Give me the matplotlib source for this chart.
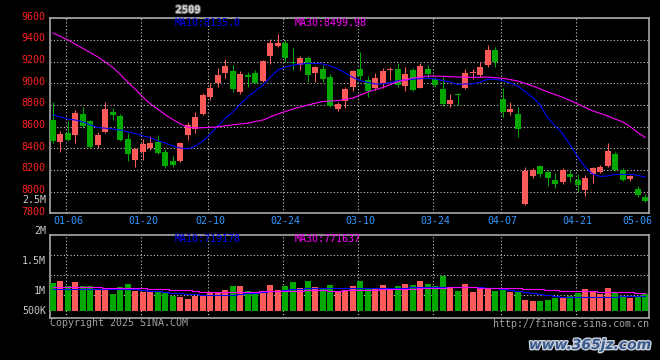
import matplotlib
matplotlib.use('Agg')
import matplotlib.pyplot as plt
import matplotlib.patheffects as pe
from matplotlib.transforms import ScaledTranslation
import numpy as np

plt.rcParams['font.family'] = 'DejaVu Sans Mono'

# trading days shown (2025)
dates = ['01-02', '01-03', '01-06', '01-07', '01-08', '01-09', '01-10', '01-13', '01-14', '01-15',
         '01-16', '01-17', '01-20', '01-21', '01-22', '01-23', '01-24', '01-27', '02-05', '02-06',
         '02-07', '02-10', '02-11', '02-12', '02-13', '02-14', '02-17', '02-18', '02-19', '02-20',
         '02-21', '02-24', '02-25', '02-26', '02-27', '02-28', '03-03', '03-04', '03-05', '03-06',
         '03-07', '03-10', '03-11', '03-12', '03-13', '03-14', '03-17', '03-18', '03-19', '03-20',
         '03-21', '03-24', '03-25', '03-26', '03-27', '03-28', '03-31', '04-01', '04-02', '04-03',
         '04-07', '04-08', '04-09', '04-10', '04-11', '04-14', '04-15', '04-16', '04-17', '04-18',
         '04-21', '04-22', '04-23', '04-24', '04-25', '04-28', '04-29', '04-30', '05-06', '05-07']

opens = [8661, 8458, 8544, 8523, 8717, 8652, 8431, 8553, 8738, 8698,
         8486, 8292, 8366, 8406, 8456, 8369, 8283, 8283, 8523, 8578,
         8717, 8876, 9000, 9092, 9114, 8923, 9077, 9098, 9021, 9255,
         9347, 9375, 9199, 9169, 9236, 9092, 9129, 9061, 8763, 8839,
         8966, 9132, 9030, 8959, 9000, 9120, 9129, 8975, 9123, 8959,
         9132, 9040, 8947, 8809, 8899, 8961, 9098, 9077, 9169, 9307,
         8855, 8738, 8717, 7886, 8144, 8237, 8184, 8107, 8092, 8163,
         8107, 8015, 8163, 8184, 8237, 8347, 8200, 8114, 8022, 7948]
highs = [8825, 8560, 8652, 8756, 8779, 8660, 8553, 8830, 8775, 8717,
         8538, 8406, 8486, 8514, 8523, 8394, 8329, 8455, 8646, 8738,
         8908, 9000, 9139, 9224, 9169, 9114, 9107, 9123, 9215, 9406,
         9458, 9400, 9323, 9252, 9252, 9160, 9169, 9083, 8830, 8969,
         9123, 9292, 9067, 9092, 9139, 9153, 9190, 9153, 9139, 9190,
         9169, 9061, 9061, 8901, 8913, 9129, 9129, 9199, 9354, 9338,
         8959, 8830, 8784, 8230, 8221, 8246, 8200, 8169, 8215, 8200,
         8163, 8154, 8230, 8246, 8452, 8369, 8215, 8154, 8052, 7975]
lows = [8452, 8369, 8467, 8452, 8587, 8405, 8400, 8545, 8661, 8470,
        8283, 8230, 8292, 8385, 8345, 8221, 8230, 8275, 8477, 8538,
        8707, 8846, 8969, 9046, 8923, 8899, 8969, 9000, 9012, 9175,
        9338, 9199, 9123, 9123, 9015, 9015, 9012, 8778, 8744, 8769,
        8932, 9030, 8876, 8938, 8954, 9030, 8969, 8932, 8932, 8954,
        9046, 8969, 8791, 8778, 8800, 8944, 9037, 9061, 9148, 9153,
        8692, 8707, 8507, 7880, 8123, 8138, 8052, 8031, 8071, 8092,
        8000, 7960, 8077, 8175, 8230, 8190, 8100, 8100, 7950, 7900]
closes = [8470, 8532, 8477, 8726, 8609, 8415, 8523, 8763, 8707, 8477,
          8345, 8394, 8437, 8452, 8354, 8237, 8246, 8449, 8615, 8692,
          8892, 8959, 9077, 9163, 8947, 9086, 9061, 9006, 9206, 9375,
          9375, 9236, 9185, 9236, 9077, 9153, 9037, 8791, 8809, 8944,
          9114, 9067, 8932, 9046, 9114, 9130, 8984, 9086, 8938, 9160,
          9086, 8984, 8809, 8846, 8890, 9098, 9107, 9153, 9307, 9199,
          8738, 8763, 8578, 8193, 8200, 8163, 8129, 8071, 8200, 8138,
          8061, 8123, 8215, 8230, 8378, 8200, 8107, 8144, 7969, 7914]

ma10 = [8707, 8689, 8670, 8661, 8643, 8615, 8592, 8585, 8578, 8569,
        8551, 8537, 8514, 8498, 8467, 8449, 8421, 8403, 8394, 8421,
        8467, 8532, 8606, 8680, 8735, 8809, 8876, 8929, 8984, 9058,
        9123, 9150, 9168, 9178, 9183, 9185, 9178, 9160, 9132, 9095,
        9054, 9026, 9007, 8994, 8994, 9007, 9024, 9031, 9037, 9043,
        9046, 9040, 9026, 9012, 8989, 8994, 8994, 9012, 9037, 9037,
        9026, 9003, 8975, 8923, 8869, 8800, 8680, 8606, 8532, 8430,
        8320, 8227, 8162, 8140, 8145, 8159, 8159, 8159, 8150, 8135]
ma30 = [9464, 9432, 9400, 9360, 9321, 9282, 9243, 9195, 9146, 9080,
        9007, 8945, 8870, 8810, 8760, 8708, 8665, 8625, 8595, 8588,
        8590, 8594, 8598, 8608, 8617, 8625, 8632, 8648, 8661, 8690,
        8717, 8740, 8763, 8782, 8800, 8816, 8832, 8837, 8841, 8852,
        8864, 8892, 8920, 8941, 8961, 8988, 9015, 9032, 9049, 9058,
        9067, 9066, 9065, 9061, 9058, 9056, 9055, 9056, 9058, 9052,
        9046, 9034, 9021, 8998, 8975, 8948, 8920, 8895, 8871, 8840,
        8809, 8777, 8745, 8722, 8698, 8670, 8643, 8600, 8545, 8500]

# volume in millions
volume = [1.38, 1.48, 1.23, 1.43, 1.23, 1.23, 1.12, 1.12, 0.83, 1.18,
          1.33, 1.00, 0.95, 0.95, 1.00, 0.95, 0.75, 0.70, 0.60, 0.75,
          0.75, 0.90, 0.90, 1.03, 1.23, 1.23, 1.00, 0.95, 0.95, 1.28,
          1.03, 1.23, 1.43, 1.13, 1.48, 1.18, 1.13, 1.28, 1.00, 1.03,
          1.23, 1.48, 1.08, 1.13, 1.28, 1.08, 1.23, 1.33, 1.28, 1.48,
          1.33, 1.23, 1.73, 1.13, 1.00, 1.33, 0.95, 1.08, 1.13, 1.00,
          1.08, 0.95, 0.95, 0.53, 0.48, 0.48, 0.53, 0.67, 0.70, 0.75,
          0.90, 1.08, 0.95, 0.83, 1.13, 0.90, 0.70, 0.65, 0.70, 0.83]
vol_ma10 = [1.115, 1.115, 1.115, 1.115, 1.115, 1.115, 1.115, 1.11, 1.11, 1.105,
            1.10, 1.10, 1.06, 1.015, 0.98, 0.95, 0.92, 0.885, 0.86, 0.84,
            0.815, 0.80, 0.785, 0.80, 0.815, 0.85, 0.885, 0.92, 0.95, 0.98,
            1.015, 1.05, 1.08, 1.115, 1.13, 1.145, 1.155, 1.165, 1.16, 1.15,
            1.145, 1.14, 1.14, 1.14, 1.14, 1.14, 1.14, 1.16, 1.18, 1.20,
            1.215, 1.215, 1.215, 1.215, 1.215, 1.215, 1.20, 1.18, 1.16, 1.14,
            1.10, 1.05, 1.00, 0.96, 0.915, 0.86, 0.81, 0.76, 0.715, 0.70,
            0.69, 0.685, 0.685, 0.69, 0.70, 0.715, 0.73, 0.75, 0.76, 0.765]
vol_ma30 = [1.215, 1.21, 1.20, 1.195, 1.19, 1.185, 1.18, 1.175, 1.17, 1.165,
            1.155, 1.14, 1.13, 1.115, 1.10, 1.09, 1.075, 1.06, 1.05, 1.01,
            0.975, 0.965, 0.965, 0.965, 0.965, 0.965, 0.965, 0.97, 0.98, 0.99,
            0.995, 1.00, 1.01, 1.02, 1.03, 1.03, 1.03, 1.02, 1.02, 1.03,
            1.04, 1.05, 1.06, 1.07, 1.08, 1.09, 1.10, 1.11, 1.125, 1.14,
            1.15, 1.16, 1.17, 1.18, 1.185, 1.185, 1.18, 1.175, 1.17, 1.165,
            1.16, 1.15, 1.14, 1.125, 1.115, 1.08, 1.05, 1.035, 1.02, 1.01,
            1.00, 0.99, 0.98, 0.975, 0.97, 0.965, 0.95, 0.93, 0.91, 0.885]

price_ticks = list(range(7800, 9601, 200))
date_ticks = ['01-06', '01-20', '02-10', '02-24', '03-10', '03-24', '04-07', '04-21', '05-06']

UP = '#ff5a5a'
DOWN = '#00a800'
GRID = '#c8c8c8'
FRAME = '#a8a8a8'

o, h, l, c = map(np.array, (opens, highs, lows, closes))
x = np.arange(len(dates))
colors = np.where(c >= o, UP, DOWN)
vol = np.array(volume) * 1e6

W, H = 660, 360
fig = plt.figure(figsize=(6.6, 3.6), dpi=100, facecolor='black')
ax = fig.add_axes([50 / W, 1 - 213.3 / H, 599 / W, 195 / H], facecolor='black')
axv = fig.add_axes([50 / W, 1 - 318 / H, 599 / W, 83 / H], facecolor='black')

# price candles
ax.vlines(x, l, h, colors=colors, lw=0.75, zorder=3)
body = np.maximum(np.abs(c - o), 10)
ax.bar(x, body, bottom=np.minimum(o, c), width=0.8, color=colors, zorder=4)
ax.plot(x, ma10, color='#0000ff', lw=0.8, zorder=5)
ax.plot(x, ma30, color='#ff00ff', lw=0.8, zorder=5)

# volume
axv.bar(x, vol, width=0.8, color=colors, zorder=3)
axv.plot(x, np.array(vol_ma10) * 1e6, color='#0000ff', lw=0.8, drawstyle='steps-mid', zorder=4)
axv.plot(x, np.array(vol_ma30) * 1e6, color='#ff00ff', lw=0.8, drawstyle='steps-mid', zorder=4)

tick_idx = [dates.index(d) for d in date_ticks]
for a in (ax, axv):
    a.set_xlim(-0.4, 79.5)
    for s in a.spines.values():
        s.set_color(FRAME)
        s.set_linewidth(1.2)
    a.tick_params(length=0)
    for i in tick_idx[:-1]:
        a.axvline(i - 0.3, color=GRID, lw=0.8, ls=(0, (1, 2)), zorder=1)

ax.set_ylim(7800, 9600)
ax.set_yticks(price_ticks)
ax.set_yticklabels([str(p) for p in price_ticks], color='#ff2020', fontsize=7.2)
ax.tick_params(axis='y', pad=3)
for lbl in ax.get_yticklabels():
    lbl.set_transform(lbl.get_transform() + ScaledTranslation(0, 2 / 72, fig.dpi_scale_trans))
ax.yaxis.grid(True, color=GRID, lw=0.8, ls=(0, (1, 2)), zorder=1)
ax.set_xticks(tick_idx)
ax.set_xticklabels(date_ticks, color='#3399ff', fontsize=7.2)
ax.tick_params(axis='x', pad=2)

axv.set_ylim(-0.35e6, 3.8e6)
axv.set_yticks([0.8e6, 1.8e6, 2.8e6])
axv.set_yticklabels([])
axv.set_xticks([])
axv.yaxis.grid(True, color=GRID, lw=0.8, ls=(0, (1, 2)), zorder=1)


def fx(px):
    return px / W


def fy(py):
    return 1 - py / H


# volume axis labels as drawn by the source
for txt, py in [('2.5M', 200), ('2M', 231), ('1.5M', 261), ('1M', 291), ('500K', 311)]:
    fig.text(fx(46), fy(py), txt, color='#c8c8c8', fontsize=7.2, ha='right', va='center')

fig.text(fx(188), fy(10), '2509', color='#d8d8d8', fontsize=7.5, ha='center', va='center',
         weight='bold', path_effects=[pe.withStroke(linewidth=1.5, foreground='#606060')])
fig.text(fx(175), fy(23), 'MA10:%.1f' % ma10[-1], color='#0000ff', fontsize=7.2, va='center')
fig.text(fx(295), fy(23), 'MA30:%.2f' % 8499.98, color='#ff00ff', fontsize=7.2, va='center')
fig.text(fx(175), fy(238.5), 'MA10:719178', color='#0000ff', fontsize=7.2, va='center')
fig.text(fx(295), fy(238.5), 'MA30:771637', color='#ff00ff', fontsize=7.2, va='center')
fig.text(fx(50), fy(323), 'Copyright 2025 SINA.COM', color='#a0a0a0', fontsize=7.2, va='center')
fig.text(fx(649), fy(324), 'http://finance.sina.com.cn', color='#a0a0a0', fontsize=7.2,
         ha='right', va='center')
fig.text(fx(590), fy(345), 'www.365jz.com', color='#3a5a8c', fontsize=10, ha='center',
         va='center', weight='bold', style='italic', family='DejaVu Sans',
         path_effects=[pe.withStroke(linewidth=2, foreground='#c8d0dc')])

fig.savefig('out.png', dpi=100, facecolor='black')
